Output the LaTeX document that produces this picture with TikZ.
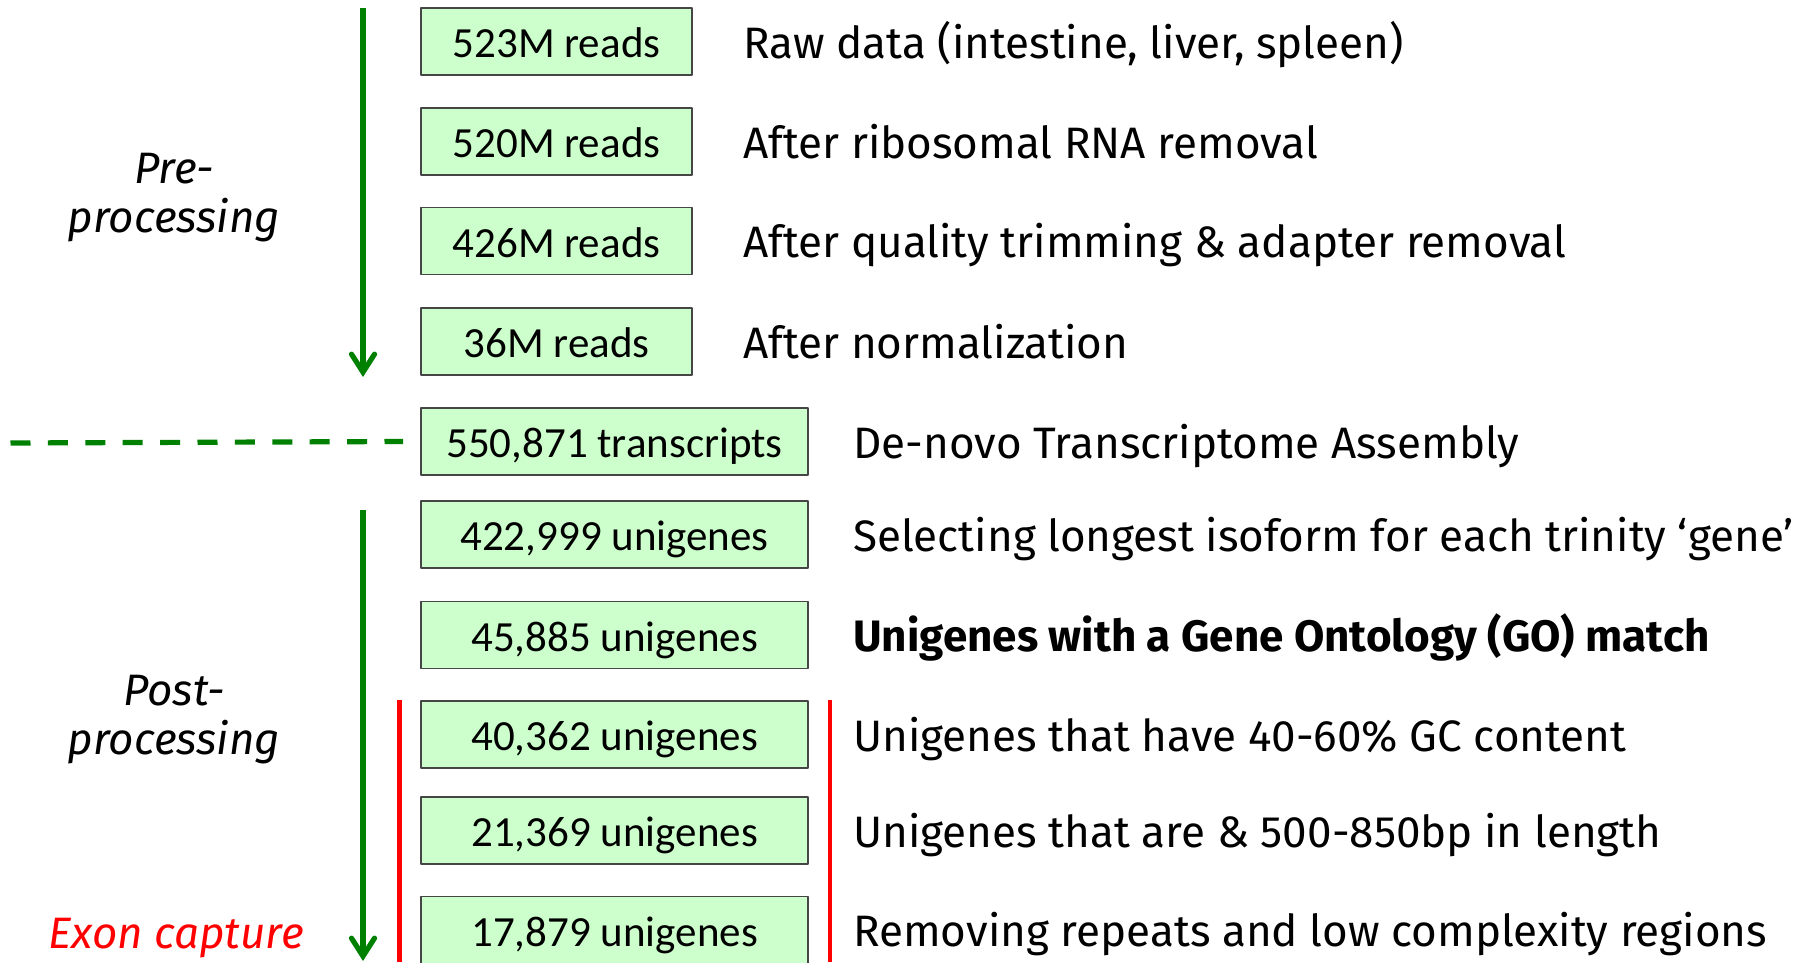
\documentclass[tikz,border=0pt]{standalone}
\usepackage{fontspec}
\setmainfont{Fira Sans}
\newfontfamily\boxfont{Carlito}
\usetikzlibrary{arrows.meta,positioning}
\definecolor{stepgreen}{RGB}{0,128,0}
\definecolor{boxfill}{RGB}{204,255,204}
\definecolor{boxline}{RGB}{70,70,70}
\definecolor{exonred}{RGB}{255,0,0}
\begin{document}
\begin{tikzpicture}[x=0.5pt, y=-0.5pt, >={Straight Barb[length=9pt,width=11.5pt,line cap=round]}, line join=round,
		count/.style={draw=boxline, fill=boxfill, line width=0.9pt, inner sep=0pt, minimum height=33.5pt, text height=17.5pt, text depth=1.5pt, font=\boxfont\fontsize{21.5}{25}\selectfont},
		narrow/.style={count, minimum width=135.5pt},
		wide/.style={count, minimum width=193.5pt},
		note/.style={inner sep=0pt, text height=20pt, text depth=3.4pt, font=\fontsize{22}{26}\selectfont},
		phase/.style={align=center, font=\itshape\fontsize{22}{24.5}\selectfont}]
	\useasboundingbox (0,0) rectangle (1817,963);
	% pre-processing
	\node[narrow] (raw) at (556.5,41.5) {523M reads};
	\node[narrow] (rrna) at (556.5,141.5) {520M reads};
	\node[narrow] (trim) at (556.5,241) {426M reads};
	\node[narrow] (norm) at (556.5,341.5) {36M reads};
	\node[note, right=25pt of raw] (rawnote) {Raw data (intestine, liver, spleen)};
	\node[note, right=25pt of rrna] (rrnanote) {After ribosomal RNA removal};
	\node[note, right=25pt of trim] (trimnote) {After quality trimming \& adapter removal};
	\node[note, right=25pt of norm] (normnote) {After normalization};
	% assembly
	\node[wide] (asm) at (614.5,441.5) {550,871 transcripts};
	\node[note, right=22pt of asm] (asmnote) {De-novo Transcriptome Assembly};
	% post-processing
	\node[wide] (iso) at (614.5,534.5) {422,999 unigenes};
	\node[wide] (go) at (614.5,635) {45,885 unigenes};
	\node[wide] (gc) at (614.5,734.5) {40,362 unigenes};
	\node[wide] (len) at (614.5,830.5) {21,369 unigenes};
	\node[wide] (rep) at (614.5,930) {17,879 unigenes};
	\node[note, right=22pt of iso] (isonote) {Selecting longest isoform for each trinity `gene'};
	\node[note, right=22pt of go, font=\bfseries\fontsize{22}{26}\selectfont] (gonote) {Unigenes with a Gene Ontology (GO) match};
	\node[note, right=22pt of gc] (gcnote) {Unigenes that have 40-60\% GC content};
	\node[note, right=22pt of len] (lennote) {Unigenes that are \& 500-850bp in length};
	\node[note, right=22pt of rep] (repnote) {Removing repeats and low complexity regions};
	% phases
	\node[phase] (pre) at (174,198) {Pre-\\processing};
	\node[phase] (post) at (174,720) {Post-\\processing};
	\node[phase, text=exonred] (exon) at (176,938) {Exon capture};
	\coordinate (pretop) at (363,8);
	\coordinate (prebot) at (363,377);
	\coordinate (posttop) at (363,510);
	\coordinate (postbot) at (363,961);
	\coordinate (cut) at (10.5,443);
	\draw[->, stepgreen, line width=2.6pt] (pretop) -- (prebot);
	\draw[->, stepgreen, line width=2.6pt] (posttop) -- (postbot);
	\draw[stepgreen, line width=2.6pt, dash pattern=on 10pt off 8.7pt] (cut) -- ([xshift=-8.5pt]asm.west);
	\draw[exonred, line width=2.4pt] ([xshift=-10.5pt]gc.north west) -- ++(0,262);
	\draw[exonred, line width=2.4pt] ([xshift=10.5pt]gc.north east) -- ++(0,262);
\end{tikzpicture}
\end{document}
